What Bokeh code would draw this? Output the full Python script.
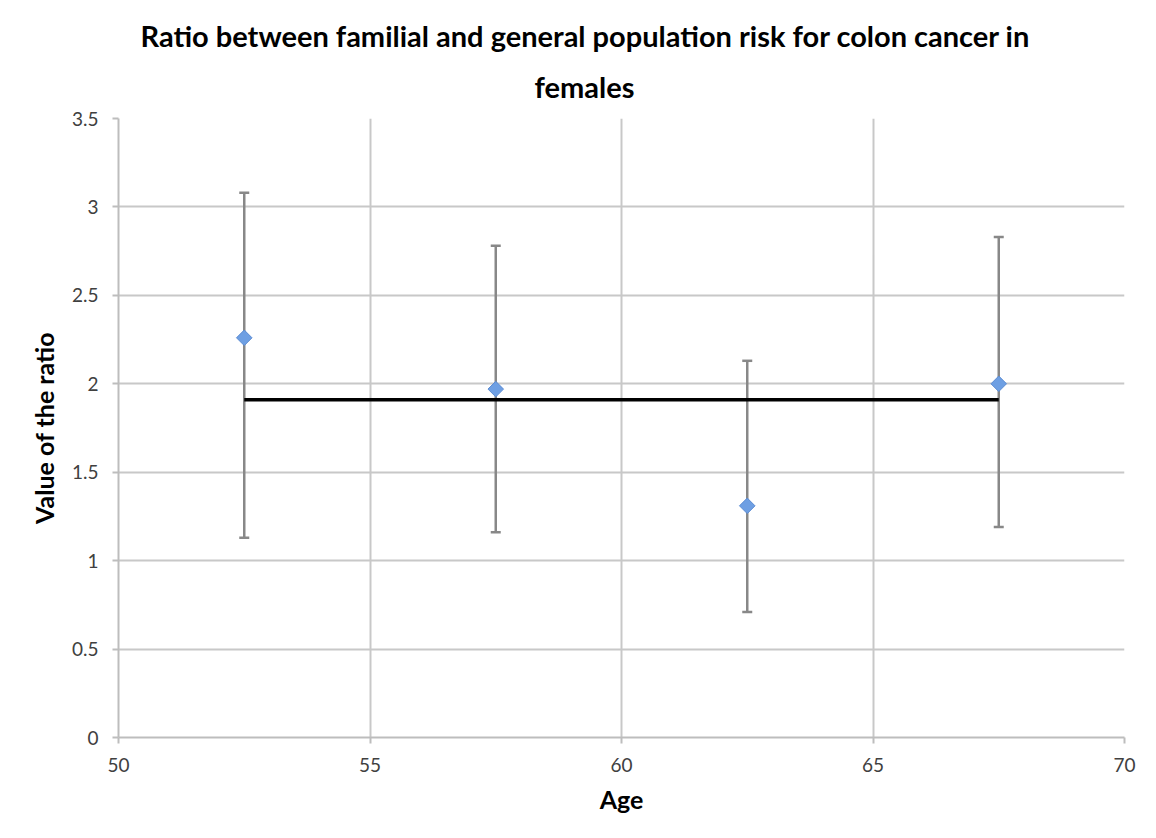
import math
from bokeh.plotting import figure
from bokeh.models import (ColumnDataSource, Whisker, TeeHead, Range1d, FixedTicker, Title)
from bokeh.embed import file_html
from bokeh.resources import INLINE

# ---- data ----
age = [52.5, 57.5, 62.5, 67.5]
ratio = [2.26, 1.97, 1.31, 2.00]
upper = [3.08, 2.78, 2.13, 2.83]
lower = [1.13, 1.16, 0.71, 1.19]
mean_ratio = 1.91

x_ticks = [50, 55, 60, 65, 70]
y_ticks = [0, 0.5, 1, 1.5, 2, 2.5, 3, 3.5]
y_tick_labels = ["0", "0.5", "1", "1.5", "2", "2.5", "3", "3.5"]

title_line1 = "Ratio between familial and general population risk for colon cancer in"
title_line2 = "females"
x_label = "Age"
y_label = "Value of the ratio"

FONT = "Lato"

p = figure(width=1156, height=838, output_backend="svg", toolbar_location=None,
           x_range=Range1d(50, 70), y_range=Range1d(0, 3.5),
           min_border_left=118, min_border_right=32, min_border_top=118, min_border_bottom=101)
p.title = None
p.outline_line_color = None
p.background_fill_color = "white"
p.border_fill_color = "white"

t2 = Title(text=title_line2, align="left", offset=416, text_font=FONT, text_font_size="29px",
           text_font_style="bold", text_color="#000000", standoff=29)
t1 = Title(text=title_line1, align="left", offset=22, text_font=FONT, text_font_size="29px",
           text_font_style="bold", text_color="#000000", standoff=0)
p.add_layout(t2, "above")
p.add_layout(t1, "above")

grid_color = "#c8c8c8"
for ax in (p.xaxis[0], p.yaxis[0]):
    ax.axis_line_color = "#bdbdbd"
    ax.axis_line_width = 2
    ax.major_tick_line_color = "#bdbdbd"
    ax.major_tick_line_width = 2
    ax.major_tick_in = 0
    ax.major_tick_out = 6
    ax.minor_tick_line_color = None
    ax.major_label_text_font = FONT
    ax.major_label_text_font_size = "19px"
    ax.major_label_text_color = "#404040"
    ax.axis_label_text_font = FONT
    ax.axis_label_text_font_size = "25px"
    ax.axis_label_text_font_style = "bold"
    ax.axis_label_text_color = "#000000"

p.xaxis.ticker = FixedTicker(ticks=x_ticks)
p.yaxis.ticker = FixedTicker(ticks=y_ticks)
overrides = {}
for t, lab in zip(y_ticks, y_tick_labels):
    key = int(t) if float(t).is_integer() else t
    overrides[key] = lab
p.yaxis.major_label_overrides = overrides
p.xaxis.axis_label = x_label
p.yaxis.axis_label = y_label
p.xaxis.major_label_standoff = 14
p.yaxis.major_label_standoff = 14
p.xaxis.axis_label_standoff = 9
p.yaxis.axis_label_standoff = 10

p.xgrid.ticker = FixedTicker(ticks=x_ticks)
p.ygrid.ticker = FixedTicker(ticks=y_ticks)
p.xgrid.grid_line_color = grid_color
p.ygrid.grid_line_color = grid_color
p.xgrid.grid_line_width = 2
p.ygrid.grid_line_width = 2

src = ColumnDataSource(dict(x=age, y=ratio, upper=upper, lower=lower))

# mean line
p.line(x=[age[0], age[-1]], y=[mean_ratio, mean_ratio], line_color="black", line_width=3.5)

err_color = "#888888"
w = Whisker(base="x", upper="upper", lower="lower", source=src,
            line_color=err_color, line_width=2.5,
            upper_head=TeeHead(size=10, line_color=err_color, line_width=2.5),
            lower_head=TeeHead(size=10, line_color=err_color, line_width=2.5))
p.add_layout(w)

p.scatter(x="x", y="y", source=src, marker="square", size=11, angle=math.pi / 4,
          fill_color="#6e9fe3", line_color="#5a8bd3", line_width=1)

open("out.html", "w").write(file_html(p, INLINE))
